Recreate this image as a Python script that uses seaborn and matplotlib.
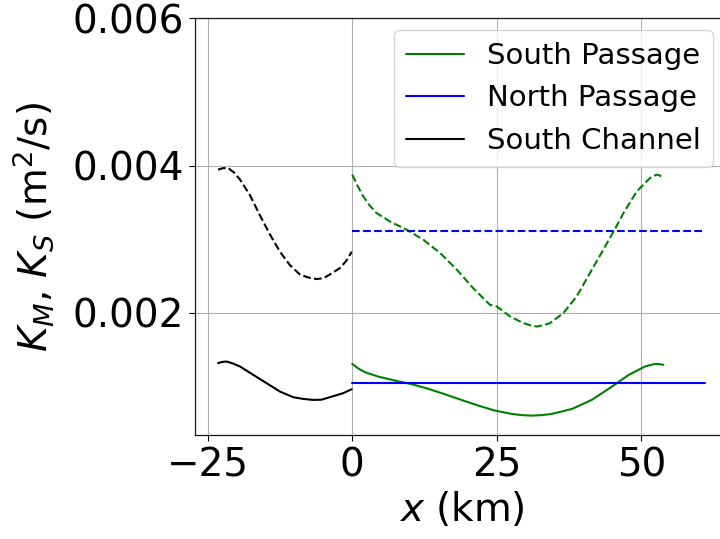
import numpy as np
import pandas as pd
import matplotlib
matplotlib.use("Agg")
import matplotlib.pyplot as plt
import seaborn as sns

# Along-channel distance (km) and diffusivity (m^2/s)
sc_x = [-23.2, -22.4, -21.5, -20.5, -19.4, -17.7, -16.0, -14.2, -12.5, -10.8, -9.05,
        -7.6, -6.2, -5.0, -3.9, -2.1, -1.0, -0.1]
sc_ks = [0.003946, 0.003965, 0.003969, 0.00391, 0.00381, 0.0036, 0.00333, 0.00306,
         0.00283, 0.00265, 0.00252, 0.00248, 0.002459, 0.00247, 0.00252, 0.00261,
         0.00271, 0.00283]

sc_xm = [-23.2, -22.5, -21.7, -20.6, -19.4, -17.1, -14.8, -12.5, -10.2, -8.5, -6.7,
         -5.3, -3.9, -1.6, -0.1]
sc_km = [0.001316, 0.001333, 0.001338, 0.00131, 0.00127, 0.001156, 0.001043, 0.00093,
         0.000853, 0.00083, 0.000816, 0.00082, 0.000853, 0.000907, 0.000962]

sp_x = [0.0, 0.9, 1.9, 3.0, 4.2, 6.5, 9.4, 12.3, 15.2, 18.1, 20.9, 23.8, 25.0, 27.3,
        29.6, 30.8, 31.9, 33.0, 34.2, 36.5, 38.8, 41.1, 43.4, 45.2, 46.9, 49.2, 51.5,
        52.1, 52.7, 53.1, 53.5]
sp_ks = [0.003878, 0.00373, 0.003582, 0.00346, 0.003356, 0.003242, 0.003129, 0.002993,
         0.002812, 0.002585, 0.002336, 0.002109, 0.002086, 0.00195, 0.00186, 0.00183,
         0.001814, 0.00183, 0.00186, 0.001996, 0.002222, 0.00254, 0.002857, 0.003106,
         0.003356, 0.00365, 0.003833, 0.00386, 0.003878, 0.00387, 0.003846]

sp_xm = [0.0, 1.1, 2.2, 4.5, 7.4, 10.3, 13.2, 16.0, 18.9, 21.8, 24.7, 27.6, 29.3, 31.0,
         32.8, 34.5, 38.0, 41.4, 44.9, 47.8, 50.6, 51.5, 52.4, 53.1, 53.8]
sp_km = [0.001306, 0.00124, 0.001193, 0.001133, 0.001079, 0.00103, 0.000966, 0.000894,
         0.000816, 0.000739, 0.000671, 0.000626, 0.00061, 0.000603, 0.00061, 0.000626,
         0.000694, 0.000816, 0.000997, 0.001156, 0.00127, 0.00129, 0.001306, 0.001303,
         0.001293]

np_x = [0.0, 61.0]
np_ks = [0.003106, 0.003106]
np_km = [0.001043, 0.001043]

sns.set_style("ticks")
plt.rcParams["font.family"] = ["DejaVu Sans"]
plt.rcParams.update({
    "mathtext.fontset": "dejavusans",
    "text.color": "black",
    "axes.labelcolor": "black",
    "xtick.color": "black",
    "ytick.color": "black",
})

fig = plt.figure(figsize=(7.2, 5.39), dpi=100)
ax = fig.add_axes([0.2708, 0.193, 1.0113 - 0.2708, 0.9657 - 0.193])

lw = 1.5
series = [
    (sp_xm, sp_km, "green", "-", "South Passage"),
    (np_x, np_km, "blue", "-", "North Passage"),
    (sc_xm, sc_km, "black", "-", "South Channel"),
    (sp_x, sp_ks, "green", "--", None),
    (np_x, np_ks, "blue", "--", None),
    (sc_x, sc_ks, "black", "--", None),
]
for xs, ys, c, ls, lab in series:
    df = pd.DataFrame({"x": xs, "k": ys})
    sns.lineplot(data=df, x="x", y="k", color=c, linestyle=ls, linewidth=lw,
                 sort=False, estimator=None, label=lab, legend=lab is not None, ax=ax)

ax.set_xlim(-27.2, 65.0)
ax.set_ylim(0.00034, 0.006)
ax.set_xticks([-25, 0, 25, 50])
ax.set_yticks([0.002, 0.004, 0.006])
ax.grid(True, color="#b0b0b0", linewidth=0.8)
ax.tick_params(labelsize=28, length=4.5, width=0.8)
for s in ax.spines.values():
    s.set_color("#1a1a1a")
    s.set_linewidth(0.9)

ax.set_xlabel("$x$ (km)", fontsize=28, labelpad=4)
ax.set_ylabel("$K_M$, $K_S$ (m$^2$/s)", fontsize=28, labelpad=12)

ax.legend(loc="upper right", bbox_to_anchor=(0.990, 0.944), bbox_transform=fig.transFigure,
          borderaxespad=0, fontsize=21, frameon=True, framealpha=0.8, edgecolor="#cccccc",
          fancybox=True)

fig.savefig("out.png", dpi=100)
